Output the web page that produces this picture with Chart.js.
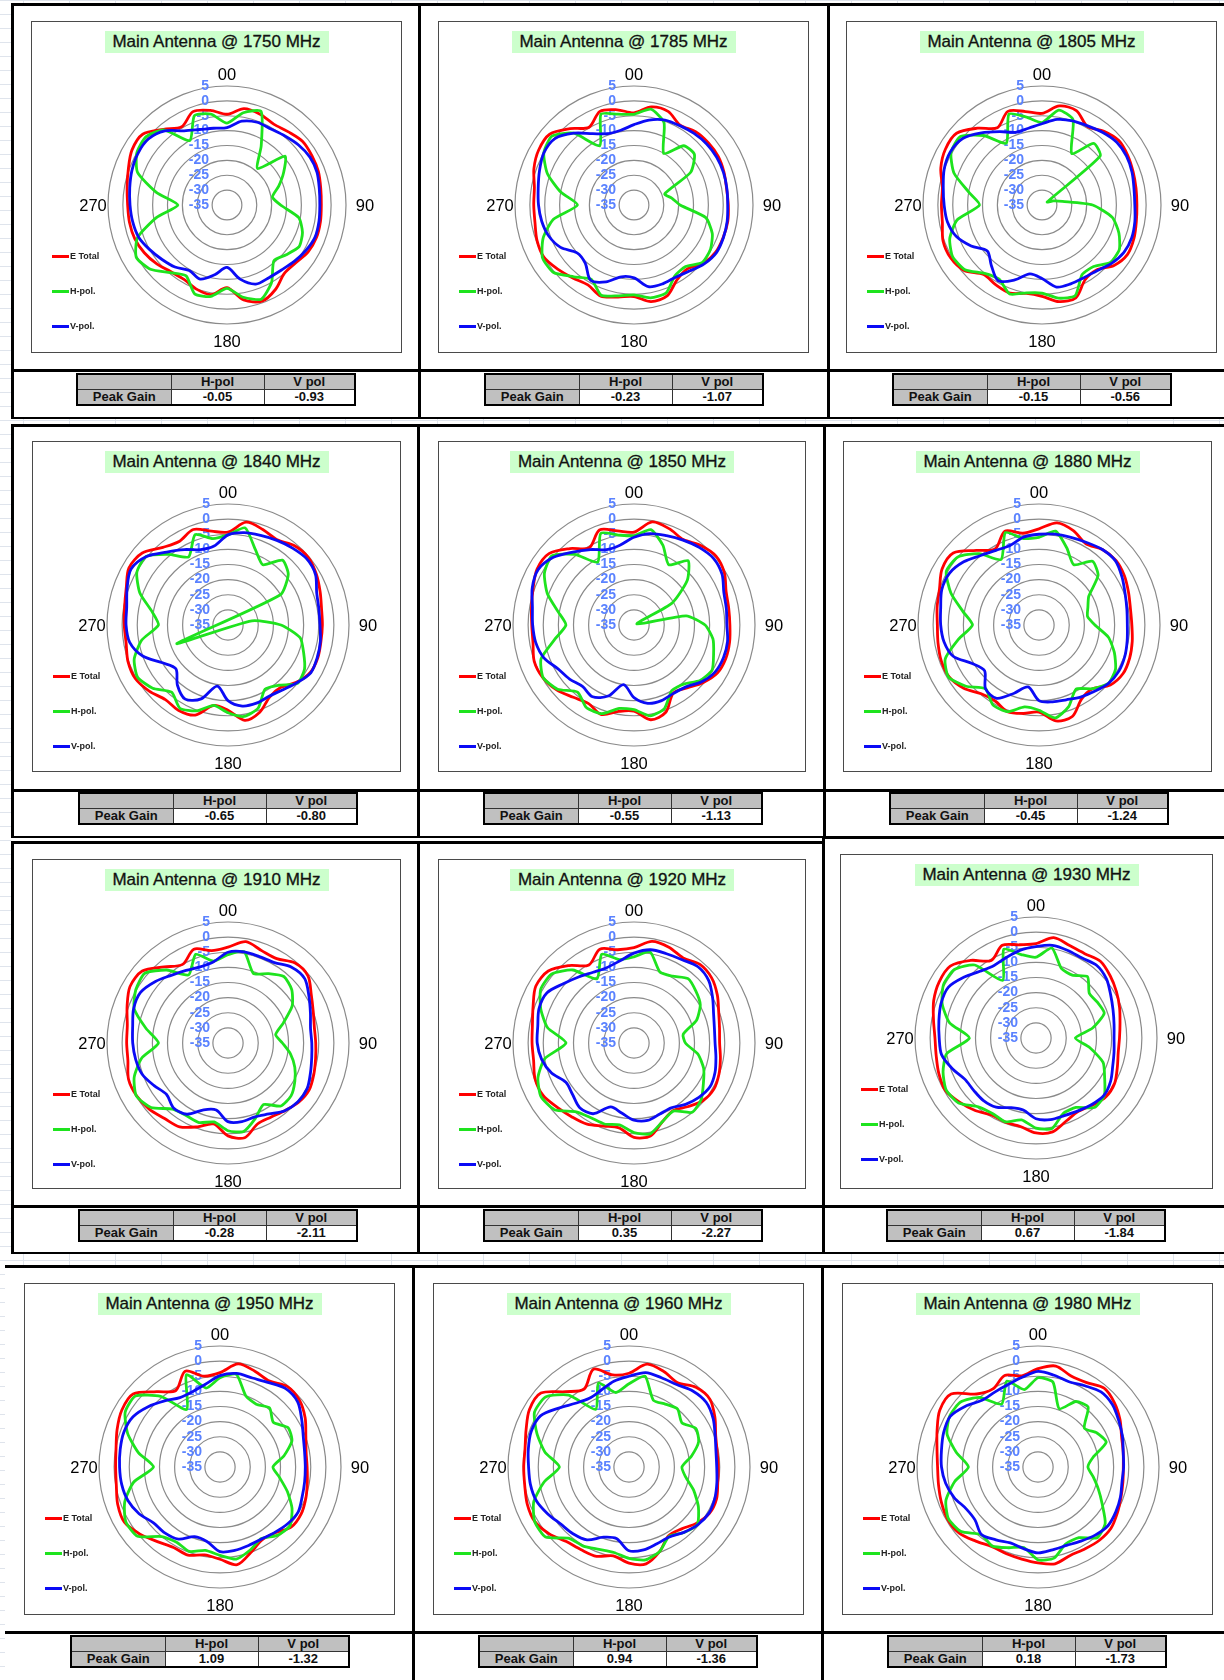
<!DOCTYPE html>
<html lang="en">
<head>
<meta charset="UTF-8">
<title>Main Antenna radiation patterns</title>
<script src="https://cdn.jsdelivr.net/npm/chart.js"></script>
<style>
  html, body { margin: 0; padding: 0; }
  body {
    width: 1224px; height: 1680px; position: relative; overflow: hidden;
    font-family: "Liberation Sans", Arial, sans-serif;
    background-color: #fff;
    background-image:
      linear-gradient(to right, #dfe4ec 1px, transparent 1px),
      linear-gradient(to bottom, #dfe4ec 1px, transparent 1px);
    background-size: 46px 100%, 100% 14px;
    background-position: 23px 0, 0 0;
  }
  .block { position: absolute; background: #fff; }
  .rule { position: absolute; background: #000; }
  .box { position: absolute; background: #fff; }
  .box::after { content: ''; position: absolute; left: 0; top: 0; right: 0; bottom: 0; border: 1.5px solid #4a4a4a; pointer-events: none; }
  .box canvas { position: absolute; left: 0; top: 0; }
  .title {
    position: absolute; top: 10px; left: 50%; transform: translateX(-50%);
    width: 224px; height: 22px; line-height: 22px; text-align: center;
    background: #ccffcc; color: #111; font-size: 17px; white-space: nowrap;
    -webkit-text-stroke: 0.3px #111;
  }
  .key { position: absolute; height: 3px; width: 17px; }
  .keytext { position: absolute; font: bold 9px "Liberation Sans", Arial, sans-serif; color: #222; line-height: 10px; }
  table.pg {
    position: absolute; border-collapse: collapse; table-layout: fixed; width: 278px;
    border: 2px solid #000; font: bold 13px "Liberation Sans", Arial, sans-serif; color: #111;
  }
  table.pg td { border: 1px solid #333; padding: 0; height: 14px; line-height: 14px; text-align: center; background: #fff; }
  table.pg td.g { background: #c0c0c0; }
</style>
</head>
<body>
<script>
// angle categories, every 10 degrees, clockwise from the top
const angleLabels = ['0','10','20','30','40','50','60','70','80','90','100','110','120','130','140','150','160','170',
  '180','190','200','210','220','230','240','250','260','270','280','290','300','310','320','330','340','350'];
const axisLabels = ['00', '90', '180', '270'];
const axisIndex = [0, 9, 18, 27];
const tickValues = [5, 0, -5, -10, -15, -20, -25, -30, -35];
const tickLabels = ['5', '0', '-5', '-10', '-15', '-20', '-25', '-30', '-35'];
const seriesNames = ['E Total', 'H-pol.', 'V-pol.'];

const freqs = [1750, 1785, 1805, 1840, 1850, 1880, 1910, 1920, 1930, 1950, 1960, 1980];
const peakH = ['-0.05', '-0.23', '-0.15', '-0.65', '-0.55', '-0.45', '-0.28', '0.35', '0.67', '1.09', '0.94', '0.18'];
const peakV = ['-0.93', '-1.07', '-0.56', '-0.80', '-1.13', '-1.24', '-2.11', '-2.27', '-1.84', '-1.32', '-1.36', '-1.73'];

// dB values
const eTotal1750 = [-4.5,-2.1,-2.5,-3.6,-2.9,-1.8,-2,-2.3,-3,-3.3,-3.1,-3,-3.5,-4.8,-5,-2.3,-0.6,-2.6,-7.2,-4.4,-4.9,-6.1,-5.7,-4.2,-2.9,-2,-1.7,-1.6,-0.9,0.3,1.9,2,-1.8,-4.6,-1.6,-2.7];
const hPol1750 = [-7.5,-3.5,-1.5,-12,-19,-9.5,-13,-16.5,-19.5,-17,-10.5,-8,-7,-9,-10.5,-5,-1.3,-3.5,-7,-3.8,-3.2,-7.5,-5.3,-1.4,0.2,-3,-11,-18.5,-11,-3,0,0.6,-2,-10,-3,-4];
const vPol1750 = [-9,-6.4,-5.4,-5.5,-4.7,-3.6,-2.8,-2.8,-3.5,-3.8,-3.6,-3.5,-4.4,-5.5,-6.5,-6.8,-6.7,-9.7,-14,-11.2,-8.5,-9.6,-7.8,-6.5,-5,-3.4,-2.8,-2.4,-1.8,-1,-0.4,-0.5,-2.5,-6.2,-8,-8.8];

const eTotal1785 = [-4,-1.5,-1.5,-4,-2.8,-2.4,-2.3,-2.8,-3.4,-3.3,-3,-3.1,-3.3,-4.5,-7,-6,-2.5,-2,-4.2,-3.6,-2.4,-4,-3,-1.5,0,-0.3,-1.2,-1.3,-1,0.8,2,2,-1.5,-4.8,-1.5,-2.5];
const hPol1785 = [-4.5,-2.3,-5.5,-15,-9,-8.5,-13,-24,-22,-19.5,-10.5,-7,-5.3,-5,-8,-7.5,-3.5,-3.3,-4.8,-4,-2.7,-6.2,-3.5,0.3,0.5,-2.5,-7.5,-16,-10,-4,0,1,-3.5,-12,-2.5,-4];
const vPol1785 = [-8,-6,-4.6,-4.2,-3.6,-3.1,-2.9,-3,-3.3,-3.5,-3.2,-3,-3,-4.2,-6,-7,-6.8,-7.1,-10.5,-10.5,-7.5,-5.8,-9.5,-10,-6.5,-4.5,-3.5,-2.9,-2.3,-1.2,0,-0.3,-3.5,-7.3,-9.5,-9.5];

const eTotal1805 = [-4.2,-1.2,-1.2,-4.5,-2.6,-1.3,-1.7,-2.4,-2.9,-3.1,-2.8,-2.1,-1.8,-3.4,-6.5,-6,-1.8,-2,-4.3,-4.8,-3.5,-4,-4.5,-0.8,0.5,0.4,-1,-1.2,-1,1.2,2.5,2.5,-1.3,-5,-1.5,-3.1];
const hPol1805 = [-7.3,-2.6,-4.5,-15,-8,-9.5,-33,-31,-28,-18,-11,-7.5,-5,-5,-8,-8,-2.5,-3.2,-5.4,-5,-3.2,-6.2,-5,-1.2,-0.3,-2,-6,-14,-10,-3.5,0.3,0.8,-4.5,-11,-2.5,-5];
const vPol1805 = [-7.7,-5.8,-4.9,-4.3,-3.2,-2.2,-2.2,-2.8,-3.6,-3.8,-3.3,-2.9,-3.2,-4.5,-6.2,-6.8,-6.8,-7,-10.3,-11.5,-8.2,-5.6,-8.5,-11,-7.5,-4.3,-2.7,-2.1,-1.3,0,0.6,-0.2,-3.3,-6.5,-9,-8.8];

const eTotal1840 = [-4.3,-0.5,-1.4,-2.5,-0.8,-0.3,-1.3,-2.6,-3.6,-3.8,-3.8,-3.4,-3.6,-5.5,-8,-7.5,-4.3,-3,-6.8,-8,-3.3,-2.4,-2.8,-1,0.4,0.2,-0.8,-0.7,-0.3,0.8,2.8,2,-1.5,-3,-1.4,-3.5];
const hPol1840 = [-5.2,-2.4,-8.5,-12,-7,-9,-15,-53,-27,-17.5,-10.8,-8.4,-5.8,-5,-9,-10.5,-5.8,-4.3,-6,-8,-4.8,-3.2,-6,-2.5,-0.5,-2,-6,-12,-9.5,-4,-0.2,0.3,-4.5,-9,-3.2,-6];
const vPol1840 = [-5.2,-4,-3.5,-2.7,-1.8,-1,-1.6,-3.8,-4.5,-4.6,-4,-3.6,-3.4,-5.3,-7,-7.8,-7.5,-7.8,-10,-14.5,-9,-6.7,-9,-12.5,-10,-5,-2,-1.3,-1,0.5,2,0.2,-3.5,-6.2,-8.5,-8.5];

const eTotal1850 = [-4.3,-0.4,-1.1,-2.4,-0.7,0.4,-0.5,-2.6,-3.2,-3.3,-2.9,-2.7,-3.2,-5.3,-7.8,-9,-4.3,-3.2,-6.5,-6,-3.5,-5,-3.8,-1.6,-0.2,0.1,-1.1,-1.2,-0.6,0.5,2,1.7,-2,-5.5,-1.6,-3.4];
const hPol1850 = [-5.5,-3,-7,-12,-7.2,-12,-20.5,-34,-17.5,-11.5,-8.5,-7,-5.2,-6.5,-9.5,-10,-5.6,-4.5,-7,-7,-3.8,-3.5,-6,-2,-0.3,-2.3,-8.5,-12.5,-9.5,-4.5,-0.8,0.5,-4.5,-11,-2.8,-4.8];
const vPol1850 = [-6,-4.3,-3.6,-2.6,-1.5,-0.7,-1.4,-3.4,-4,-4.3,-3.6,-3.5,-4,-5.8,-8.3,-8.9,-8.4,-8.7,-11,-15,-10,-7.6,-8.5,-7.2,-6,-3.3,-2,-1.5,-0.9,0.8,1.6,-0.2,-3.5,-6.2,-8.5,-8.2];

const eTotal1880 = [-3.2,-0.7,-1.8,-4,-2.4,-1.8,-2.4,-3.5,-4.3,-4.3,-3.7,-3.1,-2.9,-4.2,-7.5,-6.8,-2.8,-2.8,-6.2,-5.3,-4.5,-6,-5.3,-2.5,-0.7,-0.6,-1.1,-1.4,-0.8,0,2,2,-2.8,-6,-2,-4.2];
const hPol1880 = [-6,-3.5,-8,-12,-7.5,-9.5,-16,-17.8,-18.7,-16.5,-11.7,-8.5,-5.8,-5,-7.5,-10.5,-6.3,-3.8,-6.8,-7.5,-4.5,-4.5,-7.5,-3.5,-0.5,-2,-8,-13,-9.5,-4,0.4,0,-4.2,-10,-2.5,-6];
const vPol1880 = [-5,-4.5,-4.2,-3.5,-2.4,-2,-3.3,-4.7,-5.5,-5.8,-5.4,-4.8,-4.5,-5,-6.4,-7.5,-8.7,-9.2,-10,-14.2,-11,-7,-7.5,-11.5,-9.5,-4.8,-3.1,-2.5,-2,-0.8,-0.8,-2.5,-5,-6.5,-7,-5.5];

const eTotal1910 = [-3.3,-1,-2.5,-2.8,-0.5,-0.5,-3.2,-5,-6,-6,-5.6,-4.8,-4,-4.5,-5.8,-6.7,-6.5,-3.2,-4.3,-7.8,-5.5,-3,-2.4,-1,-0.1,0,-1.4,-1.5,-1.2,0.5,2.4,2,-2.2,-5,-2,-4];
const hPol1910 = [-5.8,-4.3,-10.5,-8.5,-6.3,-7.5,-10.5,-15.5,-19,-17,-14,-11.5,-9.5,-7.8,-7.8,-11.5,-8.5,-5.3,-6,-8.5,-7,-7.3,-6.5,-1.8,0,-2,-6,-12,-7.5,-2,0.2,0.9,-3.5,-9,-3.8,-7.5];
const vPol1910 = [-5,-4.4,-4.6,-4.3,-2.3,-1.9,-4.1,-6,-7.3,-7.3,-6.9,-6,-4.8,-4.8,-5.8,-7.9,-9,-8.6,-9,-12.5,-11.5,-7.8,-7,-8.5,-6.8,-4.8,-4,-3.5,-3,-1.8,-1.6,-3.5,-5.8,-7.3,-8.2,-7.7];

const eTotal1920 = [-3.5,-0.9,-1.3,-2.5,-1.1,-1.5,-3.2,-5.2,-6.3,-6.7,-6,-5.1,-4.5,-5.3,-7.5,-9.2,-7.4,-3.8,-3.8,-6.5,-5.8,-4,-3.1,-1.9,-0.3,-0.2,-1.3,-1.3,-0.9,0.5,2.5,2,-1.6,-5.2,-2,-3.7];
const hPol1920 = [-6.5,-4.4,-10,-9.5,-7.2,-8.3,-9.7,-13,-18.5,-18,-13.5,-10.5,-8.5,-6,-5.1,-9,-7.4,-4.5,-5.4,-7.5,-6.5,-6.5,-5.3,-0.7,0.5,-1.2,-5,-12.5,-6,-2.2,0.6,0.5,-3.5,-10.5,-3.8,-7];
const vPol1920 = [-5.3,-3.7,-3.6,-3.2,-2.1,-2.8,-5,-7,-8,-8.2,-7.5,-6.5,-6,-7,-8.5,-10.3,-10,-9,-9.5,-11.5,-12.5,-8,-7.1,-8.5,-9,-6,-4,-3,-2.7,-1.6,-1.8,-4.5,-6.5,-8,-8.5,-7.5];

const eTotal1930 = [-3.8,-1.3,-2.5,-2.8,-1.9,-3,-4.3,-5.6,-6.8,-7.4,-7.4,-6.4,-5,-4.8,-6,-7,-5.8,-3.5,-3.6,-5.3,-5.4,-5.6,-3.7,-2,-0.4,-0.8,-1.5,-1.6,-0.6,1,2,2,-1.5,-5.4,-2.4,-3.7];
const hPol1930 = [-8.3,-4.8,-10.5,-11,-8.5,-12,-11.5,-11,-16,-22,-17,-11.4,-8.8,-5.5,-5,-8.5,-8.5,-4.6,-5.2,-7.5,-5.5,-6.2,-5.3,-1.6,-0.7,-2.3,-5,-13,-6,-2,0.3,0.2,-3.5,-13,-3.8,-7];
const vPol1930 = [-4.8,-3.9,-4.2,-4.5,-3.7,-4.6,-6.5,-7.9,-8.8,-9.2,-8.8,-8,-6.5,-5.6,-6.3,-7.2,-7.7,-7.6,-8.3,-10.8,-10.5,-8.6,-8,-8.1,-7.8,-5.5,-3.3,-3,-2.4,-1.6,-1.5,-3.8,-6.2,-7.3,-6.6,-5.5];

const eTotal1950 = [-3.8,-0.4,-1.3,-2.2,-0.3,-0.7,-2.5,-4.8,-6.1,-6.2,-5.7,-4.8,-4,-4.2,-6.6,-7.2,-5,-2.2,-4.5,-5.5,-4,-4.3,-2.8,-0.5,1.5,1,-0.2,-0.5,-0.1,1.2,2.5,2.5,-2.5,-5.8,-1.3,-4.5];
const hPol1950 = [-5.5,-3.9,-10,-11,-9.5,-12,-9,-9.7,-13.5,-17.5,-15,-11.3,-7.5,-4.8,-5.5,-7.7,-5.8,-4.1,-5.8,-7,-5.3,-6.3,-5,0.6,1,-1.5,-6,-13,-7.6,-2.5,1.2,1.5,-4.5,-13,-2.5,-8.5];
const vPol1950 = [-4.8,-3.6,-3.7,-2.8,-1.2,-1.5,-3.8,-5.7,-6.6,-6.8,-6.6,-6.1,-5.2,-5.8,-6.8,-7.5,-7.4,-7,-7,-10,-10.5,-7.5,-6.6,-6.3,-4.1,-2.6,-2,-1.8,-1.5,-1.2,-1.8,-4,-6.5,-8.5,-8.5,-7.2];

const eTotal1960 = [-4,-0.5,-1.4,-2.8,-0.6,-0.1,-2.2,-4.5,-5.4,-5.5,-5.2,-4.2,-4.3,-6,-8.2,-8.8,-5.3,-2.5,-3.2,-5.2,-3.6,-3.4,-2.8,-0.6,1,0.8,0,-0.2,-0.1,1.2,3,3,-2.5,-5.3,-0.6,-4.1];
const hPol1960 = [-7.5,-4.5,-11.5,-11,-10,-12.2,-9.5,-10.5,-14,-17.5,-16,-12.2,-8.5,-5.5,-6.7,-8.5,-5.3,-3.8,-4.8,-6.3,-6,-4.8,-4.2,1,1,-1.5,-6.5,-12,-6.8,-2.6,1.1,1,-4,-13,-5.5,-10];
const vPol1960 = [-5,-3.3,-3.6,-3.5,-2.2,-1.7,-2.9,-4.7,-5.8,-6,-5.5,-4.8,-4.5,-5.3,-6.8,-8.3,-8,-7.2,-7.3,-11,-10.3,-7.2,-6.2,-5.6,-4,-2.4,-1.9,-1.8,-1.2,-0.6,-1.2,-4.7,-7.5,-8.8,-8,-6.2];

const eTotal1980 = [-2.5,-1.1,-3,-2.8,-1,-2,-3.7,-5.6,-6.4,-6.8,-6.5,-5.8,-4.7,-3.5,-3.4,-3.8,-3.9,-2.5,-3.3,-4.1,-4.5,-4.6,-3,-1,-0.5,-1,-1.6,-1.8,-1.1,0.5,2.5,2.5,-3.5,-5.2,-2.8,-4.4];
const hPol1980 = [-5.5,-6.5,-14.5,-10,-9.2,-15,-12.5,-11,-16.5,-18.5,-16.5,-13.8,-10.5,-6,-4.5,-8,-8,-4.4,-4.3,-8,-6.6,-4.8,-5.8,-1.8,-0.8,-2.6,-7,-12,-7.6,-3,-1.3,-1.6,-5,-11,-4.8,-9];
const vPol1980 = [-3.4,-4.2,-5,-4,-2.6,-2.9,-4.2,-5.3,-6.4,-6.7,-6.8,-6,-5.3,-4.8,-5.6,-6.7,-7.4,-7.2,-6.6,-7.6,-8.3,-7.2,-5.9,-7.8,-7.5,-5.5,-4,-3.1,-2.6,-1.8,-1.5,-3.7,-6.2,-6.4,-6,-4.9];

const eTotalAll = [eTotal1750, eTotal1785, eTotal1805, eTotal1840, eTotal1850, eTotal1880, eTotal1910, eTotal1920, eTotal1930, eTotal1950, eTotal1960, eTotal1980];
const hPolAll = [hPol1750, hPol1785, hPol1805, hPol1840, hPol1850, hPol1880, hPol1910, hPol1920, hPol1930, hPol1950, hPol1960, hPol1980];
const vPolAll = [vPol1750, vPol1785, vPol1805, vPol1840, vPol1850, vPol1880, vPol1910, vPol1920, vPol1930, vPol1950, vPol1960, vPol1980];

// page layout: chart box [x, y, w, h, radius] and table [x, y]
const cells = [
  [31, 21, 371, 332, 119, 76, 373], [438, 21, 371, 332, 119, 484, 373], [846, 21, 371, 332, 119, 892, 373],
  [32, 441, 369, 331, 121, 78, 792], [438, 441, 368, 331, 121, 483, 792], [843, 441, 369, 331, 121, 889, 792],
  [32, 859, 369, 330, 121, 78, 1209], [438, 859, 368, 330, 121, 483, 1209], [840, 854, 373, 335, 121, 886, 1209],
  [24, 1283, 371, 332, 121, 70, 1635], [433, 1283, 371, 332, 121, 478, 1635], [842, 1283, 371, 332, 121, 887, 1635]
];
const whiteBlocks = [[11, 3, 1213, 416], [11, 424, 1213, 414], [11, 836, 1213, 417], [5, 1265, 1219, 415]];
const rules = [
  [11, 3, 1213, 3], [11, 3, 3, 415], [418, 3, 3, 415], [827, 3, 3, 415], [11, 369, 1213, 3], [11, 417, 1213, 2],
  [11, 424, 1213, 3], [11, 424, 3, 414], [417, 424, 3, 414], [823, 424, 3, 414], [11, 789, 1213, 3], [11, 836, 1213, 2],
  [11, 841, 812, 3], [822, 836, 402, 3], [11, 841, 3, 412], [417, 841, 3, 412], [822, 836, 3, 417], [11, 1205, 1213, 3], [11, 1252, 1213, 2],
  [5, 1265, 1219, 3], [412, 1265, 3, 415], [821, 1265, 3, 415], [5, 1631, 1219, 3]
];
const seriesColors = ['#ff0000', '#1ee31e', '#0b0bf5'];
const legendY = [235, 270, 305];

function place(el, x, y, w, h) {
  el.style.left = x + 'px'; el.style.top = y + 'px';
  if (w !== undefined) el.style.width = w + 'px';
  if (h !== undefined) el.style.height = h + 'px';
}

whiteBlocks.forEach(b => {
  const d = document.createElement('div'); d.className = 'block';
  place(d, b[0], b[1], b[2], b[3]); document.body.appendChild(d);
});
rules.forEach(b => {
  const d = document.createElement('div'); d.className = 'rule';
  place(d, b[0], b[1], b[2], b[3]); document.body.appendChild(d);
});

// tick labels (under the lines) and the four angle labels, placed through the radial scale
const polarText = {
  id: 'polarText',
  beforeDatasetsDraw(chart) {
    const s = chart.scales.r;
    const ctx = chart.ctx;
    ctx.save();
    ctx.font = 'bold 14px "Liberation Sans", Arial, sans-serif';
    ctx.fillStyle = '#5a82ff';
    ctx.textAlign = 'right';
    ctx.textBaseline = 'middle';
    tickValues.forEach((v, i) => {
      ctx.fillText(tickLabels[i], s.xCenter - 18, s.yCenter - s.getDistanceFromCenterForValue(v));
    });
    ctx.font = '16.5px "Liberation Sans", Arial, sans-serif';
    ctx.fillStyle = '#000';
    ctx.textAlign = 'center';
    const offs = [12, 19, 17, 15];
    axisLabels.forEach((t, i) => {
      const p = s.getPointPosition(axisIndex[i], s.drawingArea + offs[i]);
      ctx.fillText(t, p.x, p.y + 1);
    });
    ctx.restore();
  }
};

const CX = 196, CY = 184;

cells.forEach((c, i) => {
  const [bx, by, bw, bh, r, tx, ty] = c;
  const box = document.createElement('div'); box.className = 'box';
  place(box, bx, by, bw, bh);
  const cv = document.createElement('canvas');
  cv.width = bw; cv.height = bh;
  box.appendChild(cv);

  const title = document.createElement('div'); title.className = 'title';
  title.textContent = 'Main Antenna @ ' + freqs[i] + ' MHz';
  box.appendChild(title);

  seriesNames.forEach((n, k) => {
    const ln = document.createElement('div'); ln.className = 'key';
    ln.style.background = seriesColors[k];
    place(ln, 21, legendY[k] - 1.5);
    box.appendChild(ln);
    const tx2 = document.createElement('div'); tx2.className = 'keytext';
    tx2.textContent = n;
    place(tx2, 39, legendY[k] - 5);
    box.appendChild(tx2);
  });
  document.body.appendChild(box);

  const tb = document.createElement('table'); tb.className = 'pg';
  tb.innerHTML = '<colgroup><col style="width:94px"><col style="width:93px"><col style="width:91px"></colgroup>' +
    '<tr><td class="g"></td><td class="g">H-pol</td><td class="g">V pol</td></tr>' +
    '<tr><td class="g">Peak Gain</td><td>' + peakH[i] + '</td><td>' + peakV[i] + '</td></tr>';
  place(tb, tx, ty);
  document.body.appendChild(tb);

  const series = [eTotalAll[i], hPolAll[i], vPolAll[i]];
  new Chart(cv, {
    type: 'radar',
    data: {
      labels: angleLabels,
      datasets: series.map((d, k) => ({
        label: seriesNames[k],
        data: d,
        borderColor: seriesColors[k],
        borderWidth: 2.8,
        pointRadius: 0,
        fill: false,
        tension: k === 1 ? 0.2 : 0.3,
        clip: false,
        order: 3 - k
      }))
    },
    options: {
      responsive: false,
      animation: false,
      devicePixelRatio: 1,
      layout: { padding: { left: CX - r, right: bw - CX - r, top: CY - r, bottom: bh - CY - r } },
      plugins: { legend: { display: false }, tooltip: { enabled: false } },
      scales: {
        r: {
          min: -35, max: 5,
          ticks: { display: false, stepSize: 5 },
          grid: { circular: true, color: '#8a8a8a', lineWidth: 1.2 },
          angleLines: { display: false },
          pointLabels: { display: false }
        }
      }
    },
    plugins: [polarText]
  });
});
</script>
</body>
</html>
